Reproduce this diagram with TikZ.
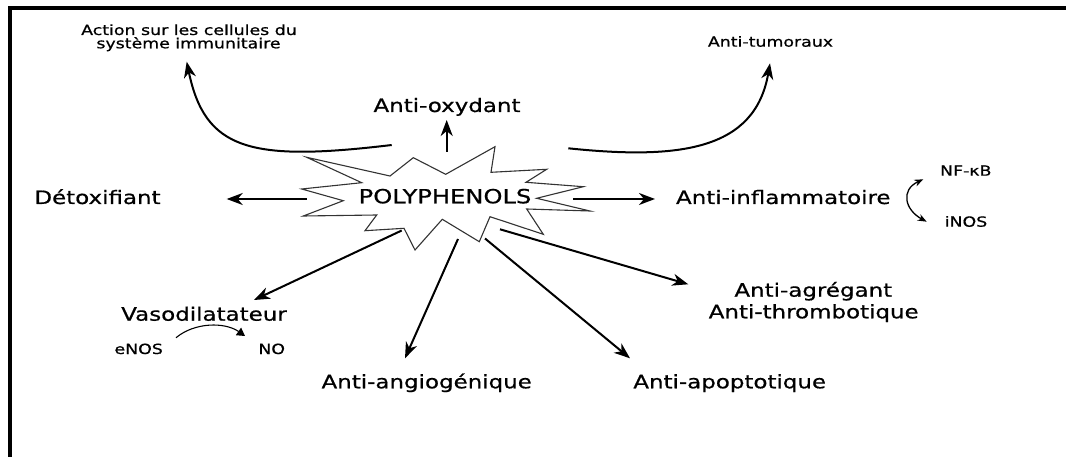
\documentclass[tikz,border=0pt]{standalone}
\usepackage{fontspec}
\setmainfont{DejaVu Sans}[FakeStretch=1.24,FakeBold=0.7]
\usetikzlibrary{arrows.meta}
\tikzset{
  lblbig/.style={font=\fontsize{18.5}{22}\selectfont, inner sep=0pt, anchor=base},
  lblpoly/.style={font=\fontsize{19.5}{23}\selectfont, inner sep=0pt, anchor=base},
  lblsmall/.style={font=\fontsize{14}{16}\selectfont, inner sep=0pt, anchor=base},
  arr/.style={line width=2pt, -{Stealth[length=16pt,width=12pt,inset=5pt]}},
  thinarr/.style={line width=1.1pt, -{Triangle[length=8pt,width=9pt]}},
  dblarr/.style={line width=1.3pt, {Stealth[length=9pt,width=7pt,inset=3pt]}-{Stealth[length=9pt,width=7pt,inset=3pt]}},
  burst/.style={draw=black!80, line width=1.1pt, line join=miter, fill=white},
  frameline/.style={line width=4pt, line join=miter, line cap=rect}
}
\begin{document}
\begin{tikzpicture}[x=1pt,y=-1pt]
\useasboundingbox (0,0) rectangle (1066,457);
% frame (top and left)
\draw[frameline] (1070,8) -- (9.5,8) -- (9.5,460);

% starburst
\draw[burst] (306.7,157.3) -- (390,176) -- (413.3,157.7) -- (445.7,174.3) -- (495,146.7)
  -- (491,172.3) -- (546.7,169.3) -- (526,182.3) -- (583.3,186.7) -- (536.7,198.3)
  -- (590,211) -- (526.7,209) -- (543.3,234.3) -- (490,216.7) -- (479.3,241.7)
  -- (442.3,219.3) -- (415,250) -- (404,228.3) -- (365,230.7) -- (376.7,215)
  -- (303.3,216) -- (343.3,200.7) -- (301.7,189) -- (361.7,182.7) -- cycle;
\node[lblpoly] (poly) at (445,203.3) {POLYPHENOLS};

% labels
\node[lblsmall] (act1) at (189,35) {Action sur les cellules du};
\node[lblsmall] (act2) at (188.5,48.3) {système immunitaire};
\node[lblsmall] (tumor) at (770.5,46.7) {Anti-tumoraux};
\node[lblbig] (antiox) at (447,112) {Anti-oxydant};
\node[lblbig] (detox) at (97.5,204) {Détoxifiant};
\node[lblbig] (inflam) at (783.3,204) {Anti-inflammatoire};
\node[lblsmall] (nfkb) at (965.8,175.7) {NF-κB};
\node[lblsmall] (inos) at (966,226.7) {iNOS};
\node[lblbig] (vaso) at (204,320.7) {Vasodilatateur};
\node[lblsmall] (enos) at (138.7,354) {eNOS};
\node[lblsmall] (no) at (271.7,354) {NO};
\node[lblbig] (angio) at (426.7,388.3) {Anti-angiogénique};
\node[lblbig] (apop) at (729.7,388.3) {Anti-apoptotique};
\node[lblbig] (agreg) at (813.3,296.7) {Anti-agrégant};
\node[lblbig] (thromb) at (813.7,318.3) {Anti-thrombotique};

% connector end points
\coordinate (sImm) at (391.7,145);   \coordinate (tImm) at (186.7,61.7);
\coordinate (sTum) at (568.3,148.3); \coordinate (tTum) at (770,63.3);
\coordinate (sOx) at (446.7,151.7);  \coordinate (tOx) at (446.7,120);
\coordinate (sDet) at (306.7,199);   \coordinate (tDet) at (226.7,199);
\coordinate (sInf) at (573.3,199);   \coordinate (tInf) at (655,199);
\coordinate (sVas) at (401.7,230.5); \coordinate (tVas) at (254,300);
\coordinate (sAng) at (458,239);     \coordinate (tAng) at (405,358.3);
\coordinate (sApo) at (485,238.5);   \coordinate (tApo) at (630,358.3);
\coordinate (sAgr) at (500,229.3);   \coordinate (tAgr) at (688.3,284.3);
\coordinate (sNO) at (176,337.7);    \coordinate (tNO) at (245,336);
\coordinate (tNF) at (923.3,179.3);  \coordinate (tIN) at (926.7,221.7);

% connectors
\draw[arr] (sImm) .. controls (250,162) and (205,150) .. (tImm);
\draw[arr] (sTum) .. controls (680,160) and (755,150) .. (tTum);
\draw[arr] (sOx) -- (tOx);
\draw[arr] (sDet) -- (tDet);
\draw[arr] (sInf) -- (tInf);
\draw[arr] (sVas) -- (tVas);
\draw[arr] (sAng) -- (tAng);
\draw[arr] (sApo) -- (tApo);
\draw[arr] (sAgr) -- (tAgr);
\draw[thinarr] (sNO) .. controls (195,322) and (225,322) .. (tNO);
\draw[dblarr] (tNF) .. controls (900,190) and (905,210) .. (tIN);
\end{tikzpicture}
\end{document}
